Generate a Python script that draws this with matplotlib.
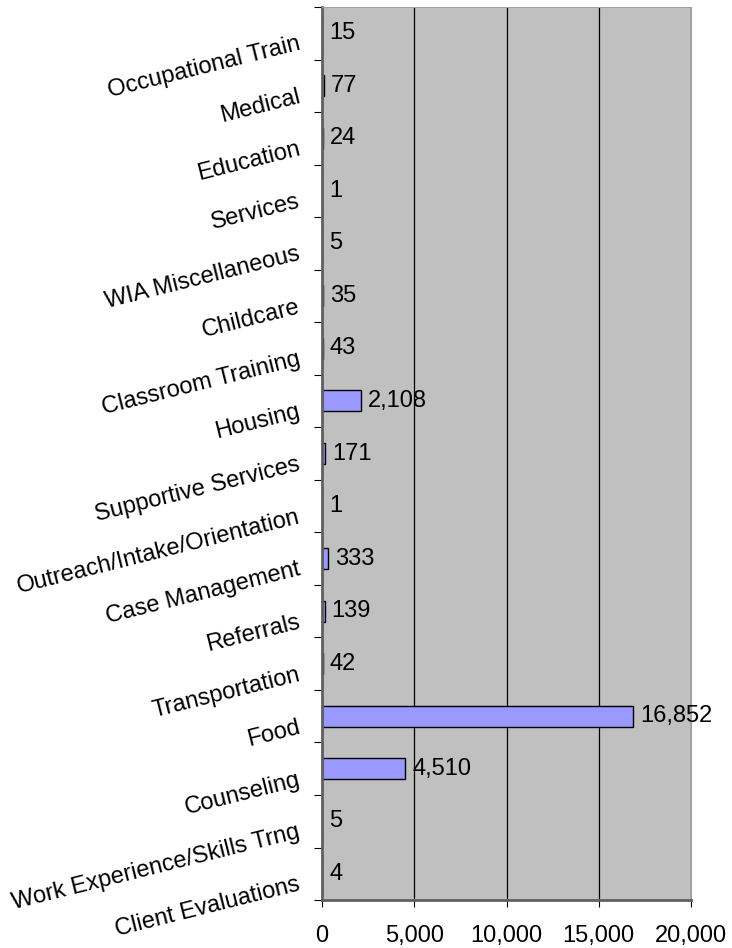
import numpy as np
import matplotlib.pyplot as plt
from matplotlib.ticker import FuncFormatter

# categories listed top to bottom as in the chart
categories = ["Occupational Train", "Medical", "Education", "Services",
              "WIA Miscellaneous", "Childcare", "Classroom Training", "Housing",
              "Supportive Services", "Outreach/Intake/Orientation",
              "Case Management", "Referrals", "Transportation", "Food",
              "Counseling", "Work Experience/Skills Trng", "Client Evaluations"]
values = [15, 77, 24, 1, 5, 35, 43, 2108, 171, 1, 333, 139, 42, 16852,
          4510, 5, 4]
x_ticks = [0, 5000, 10000, 15000, 20000]

plt.rcParams['font.family'] = ['Liberation Sans', 'DejaVu Sans']

fig = plt.figure(figsize=(7.32, 9.48), dpi=100)
ax = fig.add_axes([0.44, 0.0506, 0.944 - 0.44, 0.9926 - 0.0506])
ax.set_facecolor('#C0C0C0')
ax.set_axisbelow(True)

n = len(categories)
y = np.arange(n)[::-1]
ax.barh(y, values, height=0.4, color='#9999FF', edgecolor='black',
        linewidth=1.0, zorder=2)

for yi, v in zip(y, values):
    ax.annotate(f"{v:,}", (v, yi), xytext=(5, 0), textcoords='offset points',
                ha='left', va='center', fontsize=17, zorder=4)

ax.set_xlim(0, 20000)
ax.set_ylim(-0.5, n - 0.5)
ax.set_xticks(x_ticks)
ax.xaxis.set_major_formatter(FuncFormatter(lambda v, p: f"{int(v):,}"))
ax.tick_params(axis='x', direction='out', length=5, pad=13, labelsize=17)
ax.grid(axis='x', color='black', linewidth=0.9)

# category boundary ticks, labels at category centers
ax.set_yticks(np.arange(-0.5, n, 1.0))
ax.set_yticklabels([])
ax.tick_params(axis='y', direction='out', length=6)
ax.set_yticks(y, minor=True)
ax.set_yticklabels(categories, minor=True, rotation=14, fontsize=17,
                   rotation_mode='anchor', ha='right', va='top')
ax.tick_params(axis='y', which='minor', length=0, pad=18)

for s in ['top', 'right']:
    ax.spines[s].set_color('#A0A0A0')
for s in ['left', 'bottom']:
    ax.spines[s].set_color('#606060')
    ax.spines[s].set_linewidth(2.0)

fig.savefig('out.png', dpi=100)
